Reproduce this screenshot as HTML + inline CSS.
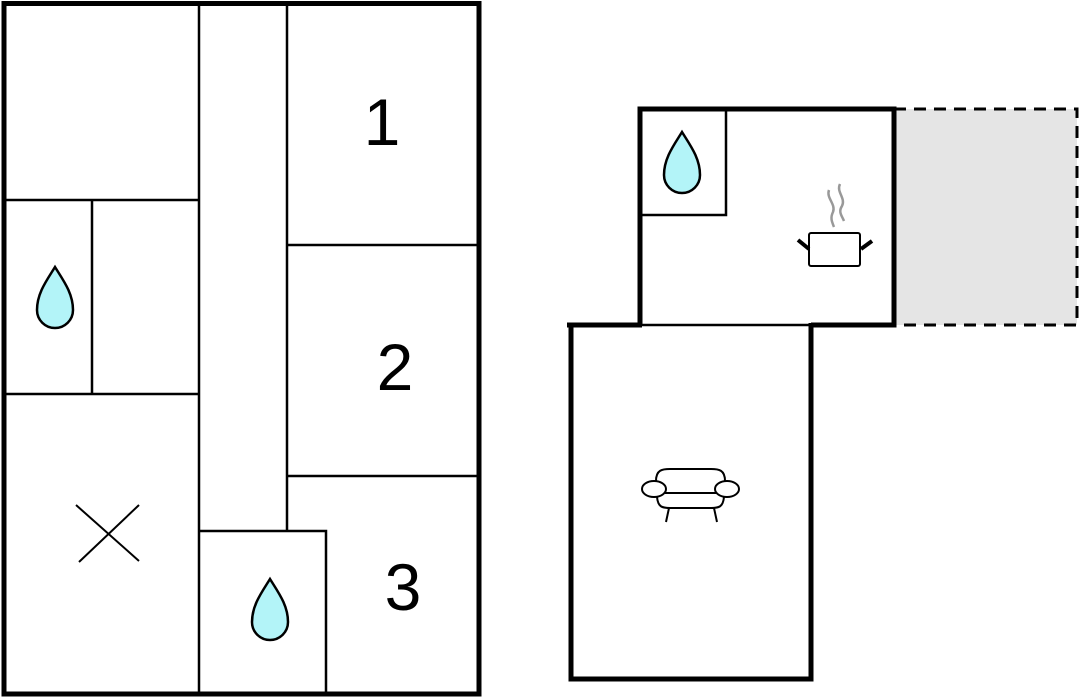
<!DOCTYPE html>
<html><head><meta charset="utf-8"><style>
html,body{margin:0;padding:0;background:#fff;width:1080px;height:698px;overflow:hidden}
svg{display:block}
text{font-family:"Liberation Sans",Arial,sans-serif;fill:#000}
</style></head><body>
<svg width="1080" height="698" viewBox="0 0 1080 698" xmlns="http://www.w3.org/2000/svg">
<defs>
<path id="drop" d="M0,-31 C8,-18 18,-5 18,12 A18,18 0 0 1 -18,12 C-18,-5 -8,-18 0,-31 Z" fill="#b3f4f8" stroke="#000" stroke-width="2.5"/>
</defs>
<g stroke="#000" fill="none">
<g stroke-width="2.5">
<line x1="199" y1="4" x2="199" y2="694"/>
<line x1="287" y1="4" x2="287" y2="531"/>
<line x1="4" y1="200" x2="199" y2="200"/>
<line x1="4" y1="394" x2="199" y2="394"/>
<line x1="92" y1="200" x2="92" y2="394"/>
<line x1="287" y1="245" x2="479" y2="245"/>
<line x1="287" y1="476" x2="479" y2="476"/>
<polyline points="199,531 326,531 326,694"/>
<line x1="76" y1="505" x2="139" y2="561" stroke-width="2"/>
<line x1="79" y1="562" x2="139" y2="505" stroke-width="2"/>
</g>
<rect x="4" y="3.5" width="475" height="690.5" stroke-width="5"/>
</g>
<use href="#drop" x="55" y="298"/>
<use href="#drop" x="270" y="610"/>
<use href="#drop" x="682" y="163"/>
<text x="382" y="145" font-size="66" text-anchor="middle">1</text>
<text x="395" y="390" font-size="66" text-anchor="middle">2</text>
<text x="403" y="610" font-size="66" text-anchor="middle">3</text>
<rect x="896" y="109" width="181" height="216" fill="#e5e5e5"/>
<g stroke="#000" fill="none">
<polyline points="894,109 1077,109 1077,325 894,325" stroke-width="3" stroke-dasharray="12,8"/>
<polyline points="640,325 640,109 894,109 894,325 811,325" stroke-width="5"/>
<line x1="567" y1="325" x2="642" y2="325" stroke-width="5"/>
<line x1="640" y1="325" x2="811" y2="325" stroke-width="2.5"/>
<polyline points="571,325 571,679 811,679 811,323" stroke-width="5"/>
<polyline points="641,215 726,215 726,109" stroke-width="2.5"/>
<rect x="809" y="233" width="51" height="33" rx="2" stroke-width="2"/>
<line x1="798" y1="240" x2="809" y2="249" stroke-width="4"/>
<line x1="872" y1="241" x2="861" y2="249" stroke-width="4"/>
<path d="M829,190 C826,198 836,204 833,212 C830,218 832,222 834,227" stroke="#999" stroke-width="2.5"/>
<path d="M840,184 C836,192 846,198 842,206 C838,212 842,216 844,221" stroke="#999" stroke-width="2.5"/>
<g stroke-width="2">
<path d="M656,481 C656,470 662,469 670,469 L711,469 C719,469 725,470 725,481"/>
<line x1="665" y1="493" x2="718" y2="493"/>
<ellipse cx="654" cy="489" rx="12" ry="8" fill="#fff"/>
<ellipse cx="727" cy="489" rx="12" ry="8" fill="#fff"/>
<path d="M657,497 C658,507 662,508 670,508 L711,508 C719,508 723,507 724,497"/>
<line x1="669" y1="508" x2="666" y2="522"/>
<line x1="714" y1="508" x2="717" y2="522"/>
</g>
</g>
</svg>
</body></html>
